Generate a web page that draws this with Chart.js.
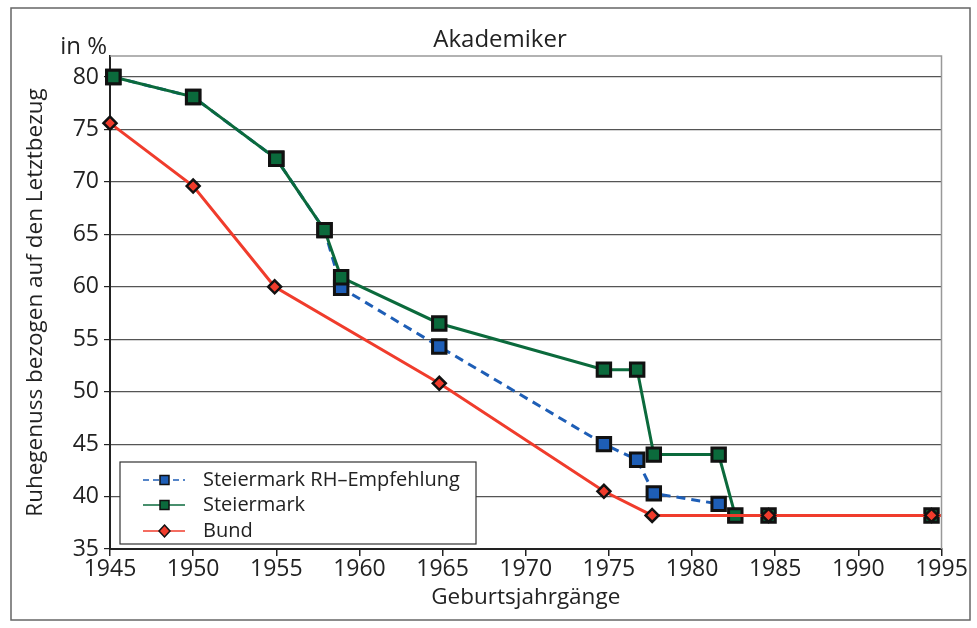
<!DOCTYPE html>
<html>
<head>
<meta charset="utf-8">
<script src="https://cdn.jsdelivr.net/npm/chart.js@4.4.0/dist/chart.umd.min.js"></script>
<style>
  html, body { margin: 0; padding: 0; background: #fff; }
  #wrap { width: 977px; height: 628px; }
</style>
</head>
<body>
<div id="wrap"><canvas id="akademiker-chart" width="977" height="628"></canvas></div>
<script>
// values
const xTicks = [1945, 1950, 1955, 1960, 1965, 1970, 1975, 1980, 1985, 1990, 1995]
const yTicks = [35, 40, 45, 50, 55, 60, 65, 70, 75, 80]

const rhYears = [1945.2, 1950, 1955, 1957.9, 1958.9, 1964.8, 1974.7, 1976.7, 1977.7, 1981.6]
const rhValues = [80, 78.1, 72.2, 65.4, 59.9, 54.3, 45.0, 43.5, 40.3, 39.3]

const stmkYears = [1945.2, 1950, 1955, 1957.9, 1958.9, 1964.8, 1974.7, 1976.7, 1977.7, 1981.6, 1982.6, 1984.6, 1994.4]
const stmkValues = [80, 78.1, 72.2, 65.4, 60.9, 56.5, 52.1, 52.1, 44.0, 44.0, 38.2, 38.2, 38.2]

const bundYears = [1945, 1950, 1954.9, 1964.8, 1974.7, 1977.6, 1984.6, 1994.4, 1995]
const bundValues = [75.6, 69.6, 60.0, 50.8, 40.5, 38.2, 38.2, 38.2, 38.2]

const toPoints = (xs, ys) => xs.map((x, i) => ({ x: x, y: ys[i] }))

const FONT = '"Open Sans", "DejaVu Sans", sans-serif'
const TEXT = '#222'

const extras = {
  id: 'extras',
  afterDraw(chart) {
    const ctx = chart.ctx
    const a = chart.chartArea
    ctx.save()
    // outer frame
    ctx.strokeStyle = '#666'
    ctx.lineWidth = 1.5
    ctx.strokeRect(11, 8, 959, 612)
    // top and right edge of plot
    ctx.strokeStyle = '#999'
    ctx.lineWidth = 1.5
    ctx.beginPath()
    ctx.moveTo(a.left, a.top)
    ctx.lineTo(a.right, a.top)
    ctx.lineTo(a.right, a.bottom)
    ctx.stroke()
    // title and unit
    ctx.fillStyle = TEXT
    ctx.font = '24px ' + FONT
    ctx.textAlign = 'center'
    ctx.textBaseline = 'middle'
    ctx.fillText('Akademiker', 500, 40)
    ctx.textAlign = 'right'
    ctx.fillText('in %', 107, 47)

    // legend box
    const box = { x: 120, y: 462, w: 356, h: 82 }
    ctx.fillStyle = '#fff'
    ctx.fillRect(box.x, box.y, box.w, box.h)
    ctx.strokeStyle = '#333'
    ctx.lineWidth = 1.2
    ctx.strokeRect(box.x, box.y, box.w, box.h)
    const rows = [480, 505, 531]
    chart.data.datasets.forEach((ds, i) => {
      const y = rows[i]
      ctx.save()
      ctx.strokeStyle = ds.borderColor
      ctx.lineWidth = 1.5
      ctx.setLineDash(ds.borderDash ? [6, 4] : [])
      ctx.beginPath()
      ctx.moveTo(143, y)
      ctx.lineTo(185, y)
      ctx.stroke()
      ctx.restore()
      ctx.fillStyle = ds.pointBackgroundColor
      ctx.strokeStyle = '#111'
      ctx.lineWidth = 1.5
      ctx.beginPath()
      if (ds.pointStyle === 'rect') {
        ctx.rect(160, y - 4.5, 9, 9)
      } else {
        ctx.moveTo(164.5, y - 6); ctx.lineTo(170, y); ctx.lineTo(164.5, y + 6); ctx.lineTo(159, y); ctx.closePath()
      }
      ctx.fill()
      ctx.stroke()
      ctx.fillStyle = TEXT
      ctx.font = '20px ' + FONT
      ctx.textAlign = 'left'
      ctx.textBaseline = 'middle'
      ctx.fillText(ds.label, 203, y)
    })
    ctx.restore()
  }
}

const akademikerChart = () => {
  const lastBund = bundYears.length - 1
  const options = {
    type: 'line',
    data: {
      datasets: [{
        label: 'Steiermark RH\u2013Empfehlung',
        data: toPoints(rhYears, rhValues),
        borderColor: '#1e5eb6',
        borderWidth: 3,
        borderDash: [9, 6],
        pointStyle: 'rect',
        pointRadius: 9.5,
        pointBorderWidth: 3,
        pointBorderColor: '#111',
        pointBackgroundColor: '#1e5eb6',
        clip: false,
        order: 3
      }, {
        label: 'Steiermark',
        data: toPoints(stmkYears, stmkValues),
        borderColor: '#0b6a3c',
        borderWidth: 3,
        pointStyle: 'rect',
        pointRadius: 9.5,
        pointBorderWidth: 3,
        pointBorderColor: '#111',
        pointBackgroundColor: '#0b6a3c',
        clip: false,
        order: 2
      }, {
        label: 'Bund',
        data: toPoints(bundYears, bundValues),
        borderColor: '#f03c2c',
        borderWidth: 3,
        pointStyle: 'rectRot',
        pointRadius: (c) => c.dataIndex === lastBund ? 0 : 6.5,
        pointBorderWidth: 2.5,
        pointBorderColor: '#111',
        pointBackgroundColor: '#f03c2c',
        clip: false,
        order: 1
      }]
    },
    options: {
      responsive: false,
      animation: false,
      layout: { padding: { top: 56, right: 35.5, left: 0, bottom: 0 } },
      plugins: { legend: { display: false }, tooltip: { enabled: false } },
      scales: {
        x: {
          type: 'linear',
          min: 1945,
          max: 1995,
          afterBuildTicks: (s) => { s.ticks = xTicks.map(v => ({ value: v })) },
          afterFit: (s) => { s.height = 79 },
          border: { color: '#222', width: 2 },
          grid: { drawOnChartArea: false, color: 'rgba(0,0,0,0)', tickLength: 7, tickColor: '#222', lineWidth: 1.5 },
          ticks: { color: TEXT, font: { family: FONT, size: 23 }, padding: 0, maxRotation: 0, autoSkip: false, callback: (v) => String(v) },
          title: { display: true, text: 'Geburtsjahrgänge', color: TEXT, font: { family: FONT, size: 22.5 }, padding: { top: 0, bottom: 17 } }
        },
        y: {
          min: 35,
          max: 82,
          afterBuildTicks: (s) => { s.ticks = yTicks.map(v => ({ value: v })) },
          afterFit: (s) => { s.width = 110 },
          border: { color: '#222', width: 2 },
          grid: { color: '#555', lineWidth: 1.2, tickLength: 6, tickColor: '#222' },
          ticks: { color: TEXT, font: { family: FONT, size: 23 }, padding: 5, autoSkip: false },
          title: { display: true, text: 'Ruhegenuss bezogen auf den Letztbezug', color: TEXT, font: { family: FONT, size: 22.5 }, padding: { top: 22, bottom: 0 } }
        }
      }
    },
    plugins: [extras]
  }
  const canvas = document.getElementById('akademiker-chart').getContext('2d')
  new Chart(canvas, options)
}

window.onload = () => {
  akademikerChart()
}
</script>
</body>
</html>
